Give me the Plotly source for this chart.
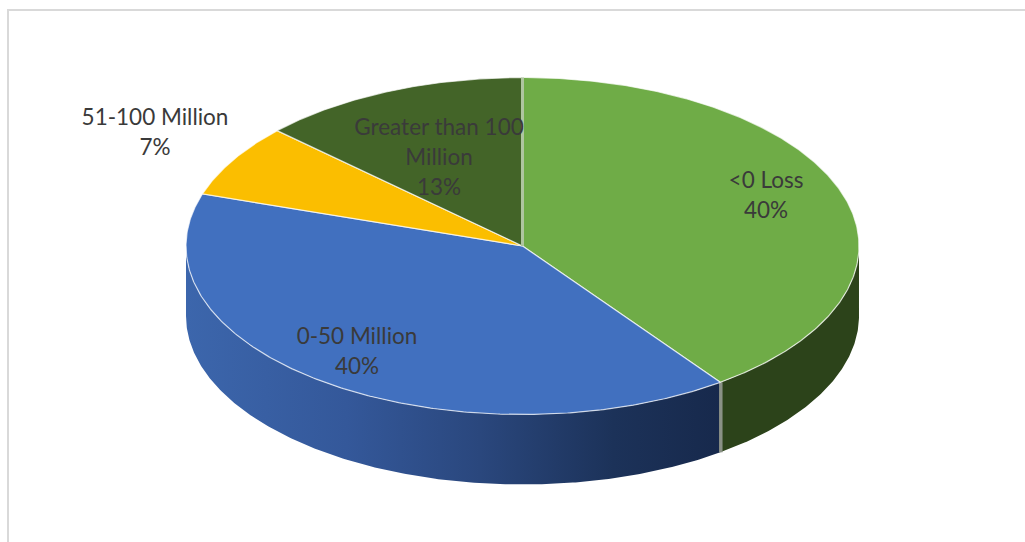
import numpy as np
import plotly.graph_objects as go

# Slice data, clockwise from twelve o'clock
categories = ["<0 Loss", "0-50 Million", "51-100 Million", "Greater than 100 Million"]
shares = [40, 40, 7, 13]
label_lines = [
    ["<0 Loss", "40%"],
    ["0-50 Million", "40%"],
    ["51-100 Million", "7%"],
    ["Greater than 100", "Million", "13%"],
]

top_colors = ["#6FAC47", "#4170BF", "#FBBE00", "#436428"]
wall_colors = ["#2C431A", None, "#B38600", "#2E4A1C"]
blue_wall_stops = [[0, "#3C66AC"], [0.3, "#34589A"], [0.55, "#2A477D"], [0.8, "#1C3259"], [1, "#17294C"]]

# Disc geometry in page units
CX, CY = 522.5, 246.0
RX, RY = 336.5, 168.5
DEPTH = 70.0
LINE_STEP = 30

label_x = [766, 357, 155, 439]
label_first_y = [182.5, 338.5, 119.5, 129.5]

fractions = np.cumsum([0] + shares) / sum(shares)
starts = fractions[:-1] * 2 * np.pi
ends = fractions[1:] * 2 * np.pi


def rim(a0, a1, drop=0.0):
    """Points along the rim between two clockwise angles measured from the top."""
    n = max(2, int(abs(a1 - a0) * 120))
    t = np.linspace(a0, a1, n)
    return CX + RX * np.sin(t), CY - RY * np.cos(t) + drop


fig = go.Figure()

# Outer wall: only the part of each slice that faces the viewer
for a0, a1, wall, stops in zip(starts, ends, wall_colors, [None, blue_wall_stops, None, None]):
    lo, hi = max(a0, np.pi / 2), min(a1, 3 * np.pi / 2)
    if hi <= lo:
        continue
    tx, ty = rim(lo, hi)
    bx, by = rim(hi, lo, DEPTH)
    kw = dict(fillcolor=wall) if stops is None else dict(
        fillgradient=dict(type="horizontal", colorscale=stops)
    )
    fig.add_trace(go.Scatter(
        x=np.r_[tx, bx, tx[0]], y=np.r_[ty, by, ty[0]],
        mode="lines", fill="toself", line=dict(width=0), hoverinfo="skip", **kw,
    ))

# Seam where the two front slices meet on the wall
sx, sy = rim(ends[0], ends[0] + 1e-6)
fig.add_trace(go.Scatter(
    x=[sx[0] + 0.5, sx[0] + 0.5], y=[sy[0], sy[0] + DEPTH], mode="lines",
    line=dict(color="#8A9186", width=3.5), hoverinfo="skip",
))

# Top faces
for a0, a1, color, name in zip(starts, ends, top_colors, categories):
    rx, ry = rim(a0, a1)
    fig.add_trace(go.Scatter(
        x=np.r_[CX, rx, CX], y=np.r_[CY, ry, CY],
        mode="lines", fill="toself", fillcolor=color,
        line=dict(color="rgba(255,255,255,0.7)", width=1.2), name=name, hoverinfo="skip",
    ))

# Pale seam between the last and first slices at twelve o'clock
ox, oy = rim(starts[0], starts[0] + 1e-6)
fig.add_trace(go.Scatter(
    x=[CX, ox[0]], y=[CY, oy[0]], mode="lines",
    line=dict(color="#AFC5A0", width=3), hoverinfo="skip",
))

# Each label line is placed on its own so the leading stays wider than the default
text_x, text_y, text_s = [], [], []
for x0, y0, lines in zip(label_x, label_first_y, label_lines):
    for i, line in enumerate(lines):
        text_x.append(x0)
        text_y.append(y0 + i * LINE_STEP)
        text_s.append(line)

fig.add_trace(go.Scatter(
    x=text_x, y=text_y, mode="text", text=text_s,
    textposition="middle center",
    textfont=dict(family="Lato", size=22.5, color="#3A3A3A"),
    hoverinfo="skip",
))

fig.update_layout(
    width=1025, height=542, margin=dict(l=0, r=0, t=0, b=0),
    paper_bgcolor="white", plot_bgcolor="white", showlegend=False,
    xaxis=dict(range=[0, 1025], visible=False, fixedrange=True),
    yaxis=dict(range=[542, 0], visible=False, fixedrange=True),
    shapes=[dict(type="rect", xref="x", yref="y", x0=8, y0=10, x1=1040, y1=560,
                 line=dict(color="#D9D9D9", width=2), layer="below")],
)

fig.write_html("out.html", config=dict(displayModeBar=False))
